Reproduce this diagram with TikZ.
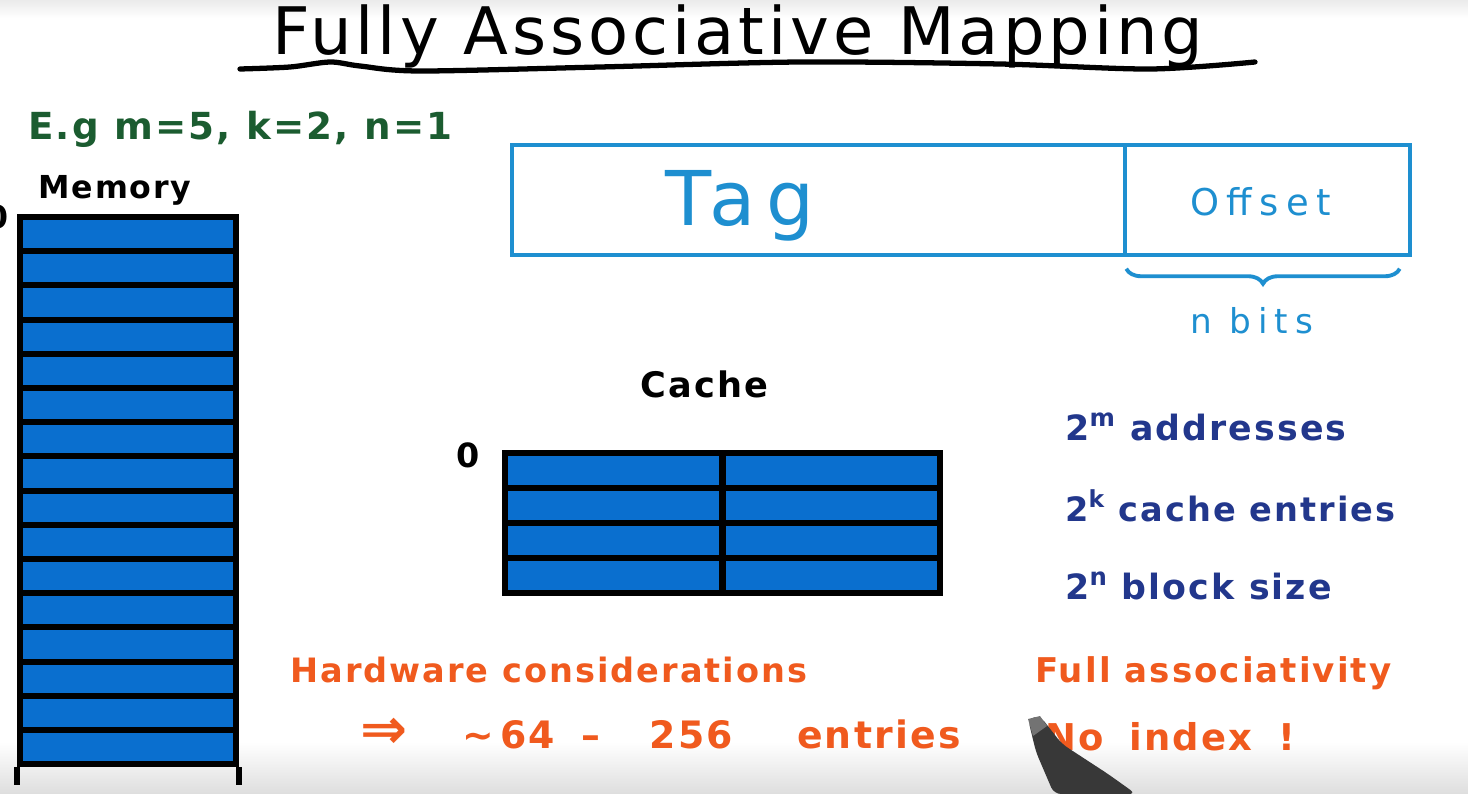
\documentclass[tikz,border=0pt]{standalone}
\usepackage{fontspec}
\setmainfont{DejaVu Sans}
\newfontfamily\hand[LetterSpace=6]{DejaVu Sans}
\newfontfamily\tagfont[LetterSpace=14]{DejaVu Sans}
\newfontfamily\wide[LetterSpace=20]{DejaVu Sans}
\usetikzlibrary{positioning,decorations.pathreplacing}

\definecolor{memblue}{HTML}{0A6FCF}
\definecolor{tagblue}{HTML}{1E8FD0}
\definecolor{egreen}{HTML}{1B5C30}
\definecolor{navy}{HTML}{22378C}
\definecolor{marker}{HTML}{F05A1E}

\newcommand\fsz[1]{\fontsize{#1}{#1}\selectfont}

\tikzset{
  memcell/.style={draw=black, line width=3.5pt, fill=memblue, inner sep=0pt,
                  minimum width=4.32cm, minimum height=0.684cm},
  cachecell/.style={draw=black, line width=3.5pt, fill=memblue, inner sep=0pt,
                    minimum width=4.35cm, minimum height=0.7cm},
  field/.style={draw=tagblue, line width=2pt, inner sep=0pt, minimum height=2.2cm},
  txt/.style={anchor=base west, inner sep=0pt},
  leg/.style={black, line width=3.5pt},
}

\begin{document}
\begin{tikzpicture}[x=0.02cm, y=-0.02cm]
  \useasboundingbox (0,0) rectangle (1468,794);
  \fill[white] (0,0) rectangle (1468,794);
  \fill[top color=black!8, bottom color=white] (0,0) rectangle (1468,18);
  \fill[top color=white, bottom color=black!13] (0,742) rectangle (1468,794);

  % title
  \node[txt, font=\hand\fsz{37.3}] (title) at (272,55) {Fully Associative Mapping};
  \draw[line width=3pt, line cap=round] plot[smooth] coordinates
    {(240,69) (290,67) (330,62) (360,66) (420,71) (600,67) (800,62) (1000,64) (1150,69) (1255,62)};

  \node[txt, font=\hand\bfseries\fsz{21.2}, text=egreen] (eg) at (28,140) {E.g m=5, k=2, n=1};

  % memory
  \node[txt, font=\hand\bfseries\fsz{18}] (memlab) at (38,198) {Memory};
  \node[anchor=base east, inner sep=0pt, font=\hand\bfseries\fsz{18}] (mem0) at (9,228) {0};
  \foreach \i in {0,...,15}
    \node[memcell] (mem-\i) at (128,{234.1+34.2*\i}) {};
  \draw[leg] (mem-15.south west) -- ++(0,18);
  \draw[leg] (mem-15.south east) -- ++(0,18);

  % address fields
  \node[field, minimum width=12.26cm] (tag) at (818.5,200) {};
  \node[field, minimum width=5.7cm] (offset) at (1267.5,200) {};
  \node[txt, font=\tagfont\fsz{43}, text=tagblue] (taglab) at (665,225) {Tag};
  \node[txt, font=\wide\fsz{21}, text=tagblue] (offlab) at (1190,215) {Offset};
  \draw[tagblue, line width=2.2pt, decorate, decoration={brace, mirror, amplitude=0.3cm}]
    ([shift={(3,12)}]offset.south west) -- ([shift={(-12,12)}]offset.south east);
  \node[txt, font=\wide\fsz{19.5}, text=tagblue] (nbits) at (1190,333) {n bits};

  % cache
  \node[txt, font=\hand\bfseries\fsz{20}] (cachelab) at (640,397) {Cache};
  \node[txt, font=\hand\bfseries\fsz{19}] (cache0) at (456,467) {0};
  \foreach \r in {0,...,3}
    \foreach \c in {0,1}
      \node[cachecell] (cache-\r-\c) at ({613.75+217.5*\c},{470.5+35*\r}) {};

  % sizes
  \node[txt, font=\hand\bfseries\fsz{19.8}, text=navy] (addr) at (1065,440) {2\textsuperscript{m} addresses};
  \node[txt, font=\hand\bfseries\fsz{19.1}, text=navy] (entr) at (1065,521) {2\textsuperscript{k} cache entries};
  \node[txt, font=\hand\bfseries\fsz{19.8}, text=navy] (blk) at (1065,599) {2\textsuperscript{n} block size};

  % notes
  \node[txt, font=\hand\bfseries\fsz{19.1}, text=marker] (hw) at (290,682) {Hardware considerations};
  \node[txt, font=\hand\bfseries\fsz{21.5}, text=marker] (range) at (360,748)
    {{\fsz{32}⇒}\hspace{1.45em}∼\,64\hspace{0.7em}–\hspace{1.3em}256\hspace{1.7em}entries};
  \node[txt, font=\hand\bfseries\fsz{19.4}, text=marker] (full) at (1035,682) {Full associativity};
  \node[txt, font=\hand\bfseries\fsz{21}, text=marker] (noidx) at (1045,750) {No\hspace{0.7em}index\hspace{0.7em}!};

  % pen
  \fill[black!78, rounded corners=4pt] (1028,719) -- (1040,716) -- (1062,744) -- (1108,774)
    -- (1136,794) -- (1054,794) -- (1036,752) -- cycle;
  \fill[black!55] (1028,719) -- (1040,716) -- (1047,726) -- (1033,736) -- cycle;
\end{tikzpicture}
\end{document}
